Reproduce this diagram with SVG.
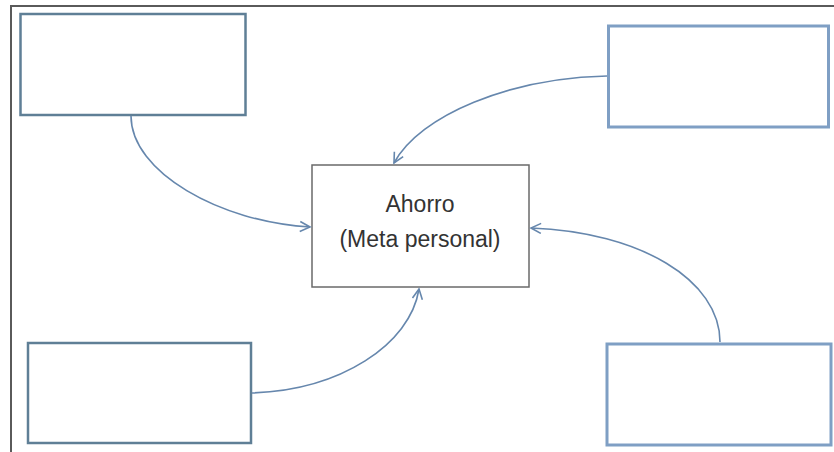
<svg xmlns="http://www.w3.org/2000/svg" width="834" height="452" viewBox="0 0 834 452">
<defs>
<style>
.frame{fill:none;stroke:#5a5a5a;stroke-width:2}
.box{fill:#ffffff;stroke:#5f7f96;stroke-width:2.5}
.boxr{fill:#ffffff;stroke:#7f9fc4;stroke-width:3}
.center{fill:#ffffff;stroke:#6a6a6a;stroke-width:1.5}
.conn{fill:none;stroke:#6687ad;stroke-width:1.6;marker-end:url(#arr)}
.lbl{font-family:"Liberation Sans",Arial,sans-serif;font-size:23px;fill:#333333;text-anchor:middle}
</style>
<marker id="arr" markerWidth="14" markerHeight="14" refX="11" refY="6" orient="auto" markerUnits="userSpaceOnUse">
<path d="M1,1 L11,6 L1,11" fill="none" stroke="#6687ad" stroke-width="1.6"/>
</marker>
</defs>
<rect width="834" height="452" fill="#ffffff"/>
<path class="frame" d="M11,452 L11,6 L834,6"/>
<g id="box-top-left"><rect class="box" x="20.5" y="14" width="225" height="101"/></g>
<g id="box-top-right"><rect class="boxr" x="608.5" y="26" width="220" height="101"/></g>
<g id="box-bottom-left"><rect class="box" x="28" y="343" width="223" height="100"/></g>
<g id="box-bottom-right"><rect class="boxr" x="607" y="344" width="224" height="101"/></g>
<g id="center">
<rect class="center" x="312" y="165" width="217" height="122"/>
<text class="lbl" x="420" y="212">Ahorro</text>
<text class="lbl" x="420" y="247">(Meta personal)</text>
</g>
<g id="connectors">
<path class="conn" d="M131,116 C131,172 220,222 310,227"/>
<path class="conn" d="M607,76 C510,78 420,115 394,163"/>
<path class="conn" d="M252,393 C340,390 410,345 419,289"/>
<path class="conn" d="M720,342 C720,280 640,232 531,228"/>
</g>
</svg>
